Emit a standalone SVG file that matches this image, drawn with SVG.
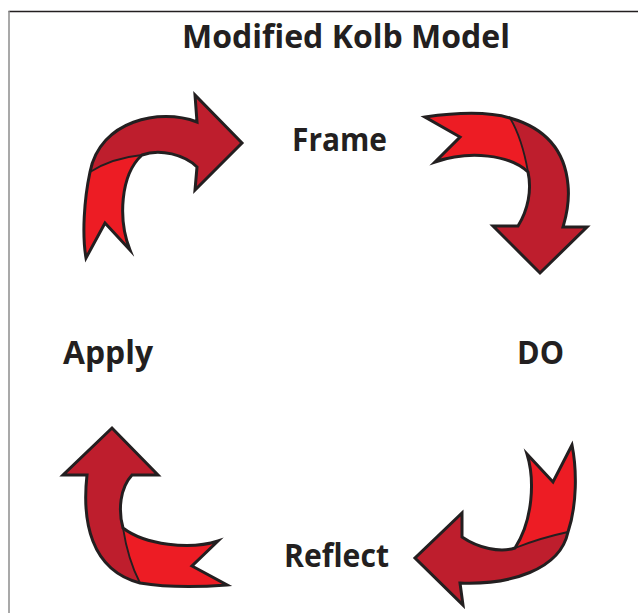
<svg xmlns="http://www.w3.org/2000/svg" width="638" height="613" viewBox="0 0 638 613">
  <style>
    .label { font-family: "Open Sans", "Liberation Sans", sans-serif; font-weight: 700; fill: #231f20; }
    .head { fill: #be1e2d; }
    .tail { fill: #ed1c24; }
    .outline { fill: none; stroke: #231f20; stroke-width: 3; stroke-linejoin: miter; stroke-miterlimit: 10; }
    .divider { fill: none; stroke: #231f20; stroke-width: 1.8; }
  </style>
  <rect width="638" height="613" fill="#ffffff"/>

  <!-- frame -->
  <line x1="8.5" y1="11.5" x2="638" y2="11.5" stroke="#231f20" stroke-width="1.5"/>
  <line x1="9" y1="11" x2="9" y2="613" stroke="#8c8c8c" stroke-width="1.5"/>

  <text class="label" x="346" y="48" font-size="32" text-anchor="middle" textLength="328" lengthAdjust="spacingAndGlyphs">Modified Kolb Model</text>

  <!-- cycle arrows -->
  <g id="connectors">
    <g id="arrow-apply-frame">
      <path class="head" d="M142,155 C160,148 185,155 197,167 L195,190 L242,143 L195,95 L197,122 C160,108 100,120 90,172 Q112,158 142,155 Z"/>
      <path class="tail" d="M90,172 C84,200 82,235 86,258 L105,223 L130,250 C118,220 120,175 142,155 Q112,158 90,172 Z"/>
      <path class="outline" d="M197,122 C160,108 100,120 90,172 C84,200 82,235 86,258 L105,223 L130,250 C118,220 120,175 142,155 C160,148 185,155 197,167 L195,190 L242,143 L195,95 Z"/>
      <path class="divider" d="M90,172 Q112,158 142,155"/>
    </g>
    <g id="arrow-frame-do">
      <path class="tail" d="M425,117 L460,137 L435,162 C470,150 510,155 528,172 Q522,138 510,118 C490,112 460,112 425,117 Z"/>
      <path class="head" d="M510,118 C545,128 565,150 568,185 C570,205 565,220 563,227 L587,227 L540,273 L493,226 L518,226 C528,210 532,190 528,172 Q522,138 510,118 Z"/>
      <path class="outline" d="M425,117 C460,112 490,112 510,118 C545,128 565,150 568,185 C570,205 565,220 563,227 L587,227 L540,273 L493,226 L518,226 C528,210 532,190 528,172 C510,155 470,150 435,162 L460,137 Z"/>
      <path class="divider" d="M510,118 Q522,138 528,172"/>
    </g>
    <g id="arrow-do-reflect">
      <path class="tail" d="M572,445 L553,482 L527,454 C535,480 533,520 515,548 Q540,538 568,532 C577,505 577,470 572,445 Z"/>
      <path class="head" d="M515,548 C500,553 478,548 462,537 L462,513 L415,558 L463,605 L460,583 C510,585 560,570 568,532 Q540,538 515,548 Z"/>
      <path class="outline" d="M572,445 L553,482 L527,454 C535,480 533,520 515,548 C500,553 478,548 462,537 L462,513 L415,558 L463,605 L460,583 C510,585 560,570 568,532 C577,505 577,470 572,445 Z"/>
      <path class="divider" d="M515,548 Q540,538 568,532"/>
    </g>
    <g id="arrow-reflect-apply">
      <path class="head" d="M132,475 L158,475 L112,428 L63,475 L87,475 C82,520 90,570 140,583 Q128,560 123,528 C118,510 120,488 132,475 Z"/>
      <path class="tail" d="M140,583 C170,588 200,587 227,585 L192,566 L218,541 C190,550 145,545 123,528 Q128,560 140,583 Z"/>
      <path class="outline" d="M132,475 L158,475 L112,428 L63,475 L87,475 C82,520 90,570 140,583 C170,588 200,587 227,585 L192,566 L218,541 C190,550 145,545 123,528 C118,510 120,488 132,475 Z"/>
      <path class="divider" d="M123,528 Q128,560 140,583"/>
    </g>
  </g>

  <!-- stage labels -->
  <g id="node-frame">
    <text class="label" x="292" y="151" font-size="32" textLength="95" lengthAdjust="spacingAndGlyphs">Frame</text>
  </g>
  <g id="node-do">
    <text class="label" x="517" y="364" font-size="32" textLength="47" lengthAdjust="spacingAndGlyphs">DO</text>
  </g>
  <g id="node-reflect">
    <text class="label" x="284" y="567" font-size="32" textLength="105" lengthAdjust="spacingAndGlyphs">Reflect</text>
  </g>
  <g id="node-apply">
    <text class="label" x="63" y="364" font-size="32" textLength="90" lengthAdjust="spacingAndGlyphs">Apply</text>
  </g>
</svg>
